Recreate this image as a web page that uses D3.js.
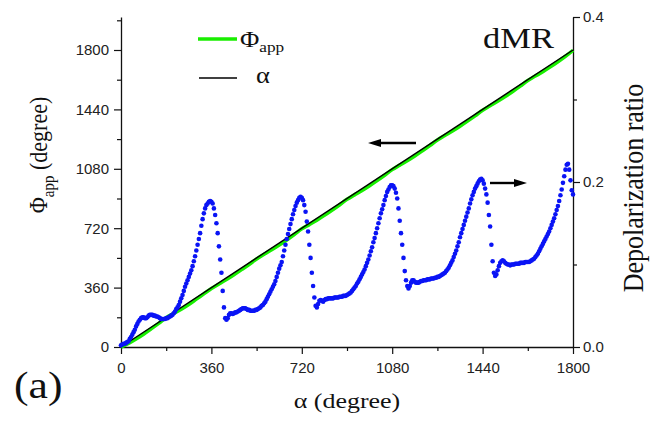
<!DOCTYPE html>
<html><head><meta charset="utf-8">
<script src="https://cdn.jsdelivr.net/npm/d3@7"></script>
<style>
body{margin:0;background:#fff}
svg{display:block}
.tick text{font-family:"Liberation Sans",Arial,sans-serif;font-size:15px;fill:#222}
.serif{font-family:"Liberation Serif","Times New Roman",serif;fill:#111}
</style>
</head><body>
<svg id="chart" width="666" height="421"></svg>
<script>
// axis ticks
const alphaTicks = [0, 360, 720, 1080, 1440, 1800];
const alphaMinor = [180, 540, 900, 1260, 1620];
const phiTicks = [0, 360, 720, 1080, 1440, 1800];
const phiMinor = [180, 540, 900, 1260, 1620, 1980];
const ratioTicks = [0, 0.2, 0.4];
const ratioMinor = [0.1, 0.3];

// rotation angle alpha (reference line alpha = alpha)
const refAlpha = [0, 1800];

// apparent rotation Phi_app, sampled every 30 degrees of alpha
const phiAlpha = d3.range(0, 1801, 30);
const phiApp = [0, 22, 49, 78, 110, 143, 178, 203, 229, 258, 290, 322, 354, 382, 409, 438,
  469, 500, 534, 562, 589, 618, 649, 682, 716, 742, 769, 798, 829, 861, 895, 922, 949, 978,
  1009, 1041, 1075, 1102, 1129, 1158, 1189, 1221, 1255, 1282, 1309, 1338, 1369, 1401, 1435,
  1462, 1489, 1518, 1549, 1581, 1615, 1642, 1669, 1698, 1729, 1762, 1798];

// depolarization ratio, sampled every 5 degrees of alpha
const depAlpha = d3.range(0, 1801, 5);
const depRatio = [
  0.002,0.003,0.004,0.004,0.005,0.006,0.007,0.010,0.012,0.015,0.018,0.021,0.025,0.028,0.031,0.033,0.035,0.036,0.036,0.035,
  0.035,0.036,0.038,0.039,0.039,0.039,0.038,0.038,0.037,0.037,0.036,0.035,0.034,0.034,0.034,0.034,0.035,0.035,0.036,0.037,
  0.038,0.039,0.041,0.043,0.046,0.048,0.051,0.055,0.059,0.063,0.068,0.073,0.077,0.081,0.085,0.089,0.093,0.098,0.104,0.110,
  0.117,0.124,0.131,0.138,0.147,0.155,0.162,0.168,0.172,0.174,0.176,0.177,0.176,0.174,0.168,0.160,0.150,0.138,0.122,0.106,
  0.090,0.068,0.048,0.035,0.033,0.035,0.039,0.041,0.041,0.040,0.041,0.042,0.042,0.043,0.044,0.045,0.046,0.047,0.047,0.047,
  0.046,0.045,0.045,0.044,0.044,0.044,0.044,0.045,0.045,0.046,0.047,0.048,0.050,0.051,0.053,0.055,0.058,0.061,0.064,0.067,
  0.070,0.073,0.076,0.080,0.085,0.090,0.095,0.099,0.103,0.110,0.117,0.124,0.131,0.137,0.143,0.149,0.155,0.161,0.166,0.171,
  0.175,0.178,0.181,0.182,0.181,0.178,0.172,0.164,0.152,0.140,0.124,0.108,0.090,0.074,0.060,0.050,0.048,0.052,0.056,0.057,
  0.056,0.055,0.057,0.058,0.058,0.059,0.059,0.059,0.059,0.059,0.060,0.060,0.060,0.060,0.061,0.061,0.061,0.062,0.062,0.062,
  0.063,0.064,0.065,0.066,0.068,0.070,0.072,0.074,0.077,0.079,0.082,0.085,0.088,0.091,0.094,0.098,0.102,0.106,0.111,0.116,
  0.121,0.127,0.132,0.138,0.144,0.150,0.156,0.162,0.167,0.172,0.178,0.183,0.188,0.191,0.194,0.196,0.196,0.195,0.192,0.187,
  0.180,0.168,0.153,0.138,0.124,0.108,0.092,0.081,0.074,0.071,0.074,0.078,0.081,0.081,0.079,0.078,0.078,0.078,0.079,0.080,
  0.080,0.081,0.081,0.081,0.082,0.082,0.082,0.083,0.083,0.083,0.084,0.084,0.085,0.085,0.086,0.087,0.088,0.089,0.090,0.092,
  0.094,0.096,0.099,0.102,0.105,0.109,0.113,0.117,0.122,0.127,0.133,0.138,0.143,0.148,0.153,0.158,0.163,0.168,0.174,0.179,
  0.184,0.188,0.192,0.195,0.198,0.201,0.203,0.204,0.202,0.198,0.192,0.185,0.175,0.160,0.146,0.124,0.104,0.090,0.086,0.088,
  0.093,0.098,0.102,0.104,0.105,0.104,0.102,0.101,0.100,0.100,0.099,0.100,0.100,0.100,0.101,0.101,0.101,0.101,0.102,0.102,
  0.102,0.102,0.103,0.103,0.103,0.103,0.104,0.105,0.106,0.107,0.109,0.111,0.113,0.116,0.119,0.122,0.125,0.128,0.131,0.134,
  0.137,0.140,0.144,0.148,0.152,0.156,0.161,0.166,0.171,0.177,0.184,0.191,0.199,0.207,0.215,0.221,0.222,0.215,0.202,0.190,
  0.185];

const svg = d3.select("#chart");
const plotLeft = 121, plotRight = 573, plotTop = 17, plotBottom = 347;

const x = d3.scaleLinear().domain([0, 1800]).range([plotLeft, plotRight]);
const yPhi = d3.scaleLinear().domain([0, 2000]).range([plotBottom, plotTop]);
const yDep = d3.scaleLinear().domain([0, 0.4]).range([plotBottom, plotTop]);
const intFmt = d3.format("d");

function styleAxis(g) {
  g.selectAll("path.domain").attr("stroke", "#111").attr("stroke-width", 1.3);
  g.selectAll(".tick line").attr("stroke", "#111").attr("stroke-width", 1.2);
  g.attr("font-size", null).attr("font-family", null);
}

// bottom axis
svg.append("g").attr("transform", `translate(0,${plotBottom})`)
  .call(d3.axisBottom(x).tickValues(alphaTicks).tickFormat(intFmt)
    .tickSize(7).tickSizeOuter(0).tickPadding(8))
  .call(styleAxis);
svg.append("g").attr("transform", `translate(0,${plotBottom})`)
  .call(d3.axisBottom(x).tickValues(alphaMinor).tickSize(4).tickFormat(""))
  .call(styleAxis).call(g => g.select(".domain").remove());

// left axis
svg.append("g").attr("transform", `translate(${plotLeft},0)`)
  .call(d3.axisLeft(yPhi).tickValues(phiTicks).tickFormat(intFmt)
    .tickSize(7).tickSizeOuter(0).tickPadding(5))
  .call(styleAxis);
svg.append("g").attr("transform", `translate(${plotLeft},0)`)
  .call(d3.axisLeft(yPhi).tickValues(phiMinor).tickSize(4).tickFormat(""))
  .call(styleAxis).call(g => g.select(".domain").remove());

// right axis
svg.append("g").attr("transform", `translate(${plotRight},0)`)
  .call(d3.axisRight(yDep).tickValues(ratioTicks).tickSize(7).tickSizeOuter(0).tickPadding(3)
    .tickFormat(d3.format(".1f")))
  .call(styleAxis);
svg.append("g").attr("transform", `translate(${plotRight},0)`)
  .call(d3.axisRight(yDep).tickValues(ratioMinor).tickSize(4).tickFormat(""))
  .call(styleAxis).call(g => g.select(".domain").remove());

// Phi_app (green) and alpha (black) lines
const phiLine = d3.line().x((d, i) => x(phiAlpha[i])).y(d => yPhi(d)).curve(d3.curveMonotoneX);
svg.append("path").datum(phiApp).attr("d", phiLine)
  .attr("fill", "none").attr("stroke", "#19ee00").attr("stroke-width", 3.6);
const refLine = d3.line().x(d => x(d)).y(d => yPhi(d));
svg.append("path").datum(refAlpha).attr("d", refLine)
  .attr("fill", "none").attr("stroke", "#000").attr("stroke-width", 1.4);

// depolarization ratio (blue dots)
svg.append("g").selectAll("circle").data(depRatio).join("circle")
  .attr("cx", (d, i) => x(depAlpha[i])).attr("cy", d => yDep(d))
  .attr("r", 2.3).attr("fill", "#0a14f5");

// arrows pointing to the matching axes
const arrows = svg.append("g").attr("fill", "#000").attr("stroke", "#000");
function arrow(x1, x2, y) {
  const dir = Math.sign(x2 - x1), head = 13;
  arrows.append("line").attr("x1", x1).attr("x2", x2 - dir * head).attr("y1", y).attr("y2", y)
    .attr("stroke-width", 2.4);
  arrows.append("path").attr("stroke", "none")
    .attr("d", `M${x2},${y} L${x2 - dir * head},${y - 4} L${x2 - dir * head},${y + 4} Z`);
}
arrow(416, 368, 143);
arrow(490, 527, 183);

// axis titles
svg.append("text").attr("class", "serif")
  .attr("transform", "translate(347,408) scale(1.18,1)")
  .attr("text-anchor", "middle").attr("font-size", 22).text("α (degree)");

const ylab = svg.append("text").attr("class", "serif")
  .attr("transform", "translate(47,155) rotate(-90) scale(1,1.18)")
  .attr("text-anchor", "middle").attr("font-size", 22);
ylab.append("tspan").text("Φ");
ylab.append("tspan").attr("font-size", 15).attr("dy", 6).text("app");
ylab.append("tspan").attr("dy", -6).text(" (degree)");

svg.append("text").attr("class", "serif")
  .attr("transform", "translate(643,188) rotate(-90) scale(1,1.12)")
  .attr("text-anchor", "middle").attr("font-size", 26).text("Depolarization ratio");

// panel tags
svg.append("text").attr("class", "serif")
  .attr("transform", "translate(483,48) scale(1.15,1)")
  .attr("font-size", 30).text("dMR");
svg.append("text").attr("class", "serif")
  .attr("transform", "translate(14,398) scale(1.18,1)")
  .attr("font-size", 37).text("(a)");

// legend
const leg = svg.append("g");
leg.append("line").attr("x1", 198).attr("x2", 237).attr("y1", 39).attr("y2", 39)
  .attr("stroke", "#19ee00").attr("stroke-width", 3.6);
const l1 = leg.append("text").attr("class", "serif")
  .attr("transform", "translate(240,47) scale(1.15,1)").attr("font-size", 23);
l1.append("tspan").text("Φ");
l1.append("tspan").attr("font-size", 15).attr("dy", 5).text("app");
leg.append("line").attr("x1", 199).attr("x2", 237).attr("y1", 78).attr("y2", 78)
  .attr("stroke", "#000").attr("stroke-width", 1.4);
leg.append("text").attr("class", "serif")
  .attr("transform", "translate(256,83) scale(1.15,1)").attr("font-size", 23).text("α");
</script>
</body></html>
